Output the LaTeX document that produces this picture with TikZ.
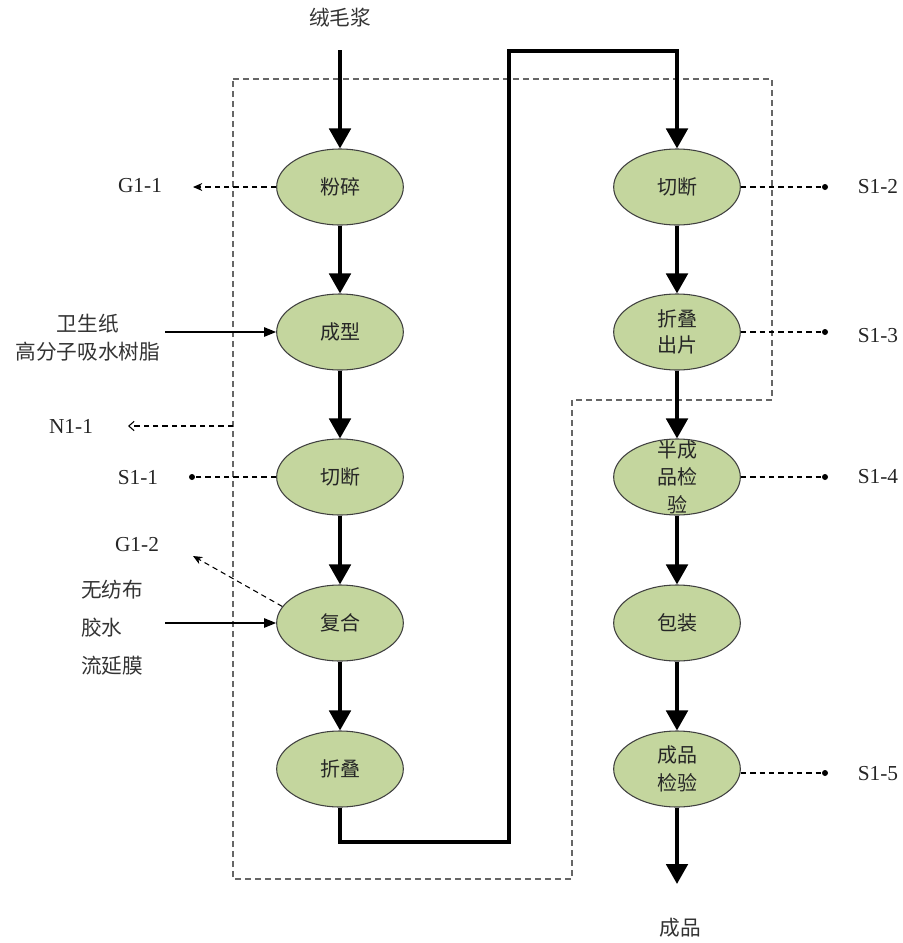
\documentclass[tikz,border=0pt]{standalone}
\usepackage{fontspec}
\setmainfont{Liberation Serif}
\newfontfamily\cjk{Noto Sans CJK SC}
\usetikzlibrary{shapes.geometric,arrows.meta}
\definecolor{procfill}{RGB}{196,214,158}
\begin{document}
\begin{tikzpicture}[x=0.75pt,y=-0.75pt,
  proc/.style={ellipse, draw=black!75, line width=0.8pt, fill=procfill, minimum width=95pt, minimum height=57pt, inner sep=0pt},
  ptxt/.style={font=\cjk\fontsize{15}{20}\selectfont, align=center, text=black!85, inner sep=0pt},
  ctxt/.style={font=\cjk\fontsize{15.5}{21}\selectfont, text=black!80, inner sep=0pt},
  lbl/.style={font=\fontsize{16}{18}\selectfont, text=black!85, inner sep=0pt},
  mainarr/.style={line width=3pt, -{Triangle[width=16pt,length=15pt]}},
  feed/.style={line width=1.1pt, -{Triangle[width=7pt,length=9pt]}},
  emis/.style={line width=0.8pt, dash pattern=on 4pt off 3pt, -{Stealth[width=6pt,length=7pt]}},
  emisopen/.style={line width=0.8pt, dash pattern=on 4pt off 3pt, -{Straight Barb[width=7pt,length=4pt]}},
  waste/.style={line width=0.8pt, dash pattern=on 4pt off 3pt},
  boxline/.style={draw=black!60, line width=0.8pt, dash pattern=on 4.5pt off 3pt},
  dotm/.style={circle, fill=black, inner sep=0pt, minimum size=4.5pt}
]
\useasboundingbox (0,0) rectangle (903,943);

% boundary (dashed enclosure)
\draw[boxline] (233,79) -- (772,79) -- (772,400) -- (572,400) -- (572,879) -- (233,879) -- cycle;

% left column
\node[proc] (l1) at (340,187) {};
\node[proc] (l2) at (340,332) {};
\node[proc] (l3) at (340,477) {};
\node[proc] (l4) at (340,623) {};
\node[proc] (l5) at (340,769) {};
\node[ptxt] (l1t) at (l1) {粉碎};
\node[ptxt] (l2t) at (l2) {成型};
\node[ptxt] (l3t) at (l3) {切断};
\node[ptxt] (l4t) at (l4) {复合};
\node[ptxt] (l5t) at (l5) {折叠};

% right column
\node[proc] (r1) at (677,187) {};
\node[proc] (r2) at (677,332) {};
\node[proc] (r3) at (677,477) {};
\node[proc] (r4) at (677,623) {};
\node[proc] (r5) at (677,769) {};
\node[ptxt] (r1t) at (r1) {切断};
\node[ptxt] (r2t) at (r2) {折叠\\出片};
\node[ptxt, font=\cjk\fontsize{15}{20.5}\selectfont] (r3t) at (r3) {半成\\品检\\验};
\node[ptxt] (r4t) at (r4) {包装};
\node[ptxt, font=\cjk\fontsize{15}{21.5}\selectfont] (r5t) at (r5) {成品\\检验};

% input / output labels
\node[ctxt] (in) at (340,18) {绒毛浆};
\node[ctxt] (out) at (680,928) {成品};
\coordinate (inS) at (340,50);
\coordinate (outE) at (677,884);

% main flow
\draw[mainarr] (inS) -- (l1.north);
\draw[mainarr] (l1.south) -- (l2.north);
\draw[mainarr] (l2.south) -- (l3.north);
\draw[mainarr] (l3.south) -- (l4.north);
\draw[mainarr] (l4.south) -- (l5.north);
\coordinate (f1) at (340,842);
\coordinate (f2) at (509,842);
\coordinate (f3) at (509,51);
\coordinate (f4) at (677,51);
\draw[mainarr] (l5.south) -- (f1) -- (f2) -- (f3) -- (f4) -- (r1.north);
\draw[mainarr] (r1.south) -- (r2.north);
\draw[mainarr] (r2.south) -- (r3.north);
\draw[mainarr] (r3.south) -- (r4.north);
\draw[mainarr] (r4.south) -- (r5.north);
\draw[mainarr] (r5.south) -- (outE);

% raw material feeds
\node[ctxt, align=center] (m1) at (88,338) {卫生纸\\高分子吸水树脂};
\coordinate (m1e) at (165,332);
\draw[feed] (m1e) -- (l2.west);
\node[ctxt, align=left, font=\cjk\fontsize{15.5}{28.5}\selectfont, anchor=west] (m2) at (81,628) {无纺布\\胶水\\流延膜};
\coordinate (m2e) at (165,623);
\draw[feed] (m2e) -- (l4.west);

% emissions left
\node[lbl] (g11) at (140,186) {G1-1};
\coordinate (g11e) at (193,187);
\draw[emis] (l1.west) -- (g11e);
\node[lbl] (n11) at (71,426) {N1-1};
\coordinate (n11s) at (233,426);
\coordinate (n11e) at (128,426);
\draw[emisopen] (n11s) -- (n11e);
\node[lbl] (s11) at (138,478) {S1-1};
\node[dotm] (s11d) at (192,477) {};
\draw[waste] (l3.west) -- (s11d);
\node[lbl] (g12) at (137,545) {G1-2};
\coordinate (g12e) at (193,556);
\draw[emis] (l4.164) -- (g12e);

% emissions right
\node[dotm] (s12d) at (825,187) {};
\node[lbl] (s12) at (878,187) {S1-2};
\draw[waste] (r1.east) -- (s12d);
\node[dotm] (s13d) at (825,332) {};
\node[lbl] (s13) at (878,336) {S1-3};
\draw[waste] (r2.east) -- (s13d);
\node[dotm] (s14d) at (825,477) {};
\node[lbl] (s14) at (878,477) {S1-4};
\draw[waste] (r3.east) -- (s14d);
\node[dotm] (s15d) at (825,773) {};
\node[lbl] (s15) at (878,774) {S1-5};
\draw[waste] (r5.east |- s15d) -- (s15d);
\end{tikzpicture}
\end{document}
